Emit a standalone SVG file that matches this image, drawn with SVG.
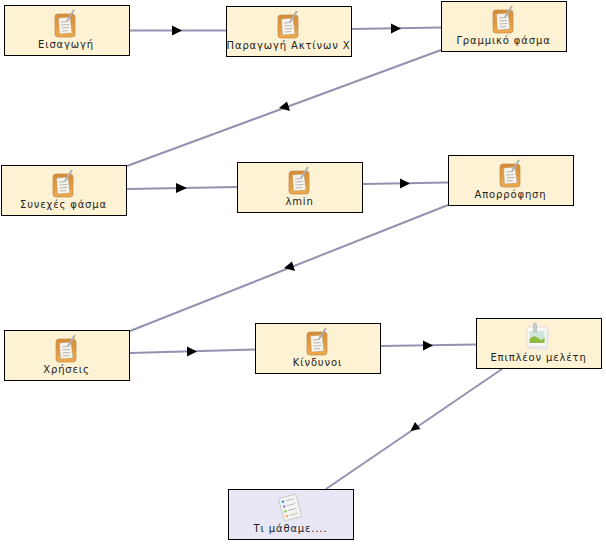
<svg xmlns="http://www.w3.org/2000/svg" width="606" height="544" viewBox="0 0 606 544">
<style>
.n{fill:#fdf2d3;stroke:#000;stroke-width:1}
.v{fill:#e9e7f5;stroke:#000;stroke-width:1}
text{font-family:"DejaVu Sans",Verdana,sans-serif;font-size:10px;letter-spacing:.85px;text-anchor:middle;fill:#222}
.c{fill:none;stroke:#9391b0;stroke-width:2}
.a{fill:#000}
</style>
<defs>
<linearGradient id="og" x1="0" y1="0" x2="0" y2="1"><stop offset="0" stop-color="#d68c35"/><stop offset="1" stop-color="#eeaa4c"/></linearGradient>
<g id="clip">
<rect x="-10" y="-11" width="20" height="23" rx="3" fill="url(#og)" stroke="#c08a50" stroke-width=".7"/>
<path d="M-6.500-7L5-8L7 8L-5.500 9Z" fill="#f6f4ec" stroke="#a09070" stroke-width=".4"/>
<path d="M-4-3L3-3.500M-3.800 0L4-.5M-3.500 3L4.300 2.500M-3.200 6L3 5.500" stroke="#999" stroke-width=".7" fill="none"/>
<path d="M2-4L9-15" stroke="#b0b0b0" stroke-width="2" fill="none"/>
</g>
<g id="pic">
<rect x="-9" y="-6" width="19" height="19" rx="1" fill="#eee" stroke="#ddd" stroke-width=".5" transform="rotate(8 0 3)"/>
<rect x="-11" y="-9" width="20" height="20" rx="1" fill="#f8f8f8" stroke="#ccc" stroke-width=".6"/>
<rect x="-8.500" y="-5" width="15" height="12" fill="#cfe6d8"/>
<path d="M-8.500 3Q-4-2 0 2T6.500 1V7H-8.500Z" fill="#8dbb45"/>
<rect x="-4.500" y="-13" width="3" height="9" rx="1.500" fill="#c8cdd2" stroke="#a0a5aa" stroke-width=".5"/>
</g>
<g id="list">
<rect x="-9" y="-11" width="18" height="23" rx="1" fill="#f5f5f3" stroke="#bbb" stroke-width=".7" transform="rotate(-15)"/>
<g transform="rotate(-15)">
<circle cx="-5.500" cy="-7" r="1.300" fill="#3d8fe0"/><circle cx="-5.500" cy="-2" r="1.300" fill="#8f7fd0"/><circle cx="-5.500" cy="3" r="1.300" fill="#8cc63f"/><circle cx="-5.500" cy="8" r="1.300" fill="#f5a860"/>
<path d="M-3-7H6M-3-2H6M-3 3H6M-3 8H6" stroke="#aaa" stroke-width=".7" fill="none"/>
</g>
</g>
</defs>
<g id="connectors">
<path class="c" d="M130 30.500H226"/><path class="a" d="M182 30.500L172 25.500V35.500Z"/>
<path class="c" d="M352 29L441 27.500"/><path class="a" d="M401 28.500L391 23.500V33.500Z"/>
<path class="c" d="M441 50L127 166"/><path class="a" d="M279 108L287 101.500L290 111Z"/>
<path class="c" d="M127 189L237 187"/><path class="a" d="M187 188L176 183V193Z"/>
<path class="c" d="M363 184L448 182.500"/><path class="a" d="M410 183.500L400 178.500V188.500Z"/>
<path class="c" d="M448 205L130 331"/><path class="a" d="M284 268L292 261.500L295 271Z"/>
<path class="c" d="M130 353L255 349.500"/><path class="a" d="M197 351.500L187 346.500V356.500Z"/>
<path class="c" d="M381 346L476 344.500"/><path class="a" d="M433 345.500L423 340.500V350.500Z"/>
<path class="c" d="M502 369L326 489"/><path class="a" d="M410.500 431L415 422L420.500 429Z"/>
</g>
<g id="n1"><rect class="n" x="4.500" y="5.500" width="125" height="50"/><use href="#clip" x="65" y="25"/><text x="66" y="48">Εισαγωγή</text></g>
<g id="n2"><rect class="n" x="226.500" y="6.500" width="125" height="50"/><use href="#clip" x="288" y="26"/><text x="288.500" y="49">Παραγωγή Ακτίνων Χ</text></g>
<g id="n3"><rect class="n" x="441.500" y="1.500" width="125" height="50"/><use href="#clip" x="503" y="21"/><text x="503.500" y="44">Γραμμικό φάσμα</text></g>
<g id="n4"><rect class="n" x="1.500" y="165.500" width="125" height="50"/><use href="#clip" x="63" y="185"/><text x="63.500" y="208">Συνεχές φάσμα</text></g>
<g id="n5"><rect class="n" x="237.500" y="162.500" width="125" height="50"/><use href="#clip" x="299" y="182"/><text x="299.500" y="205">λmin</text></g>
<g id="n6"><rect class="n" x="448.500" y="155.500" width="125" height="50"/><use href="#clip" x="510" y="175"/><text x="510.500" y="198">Απορρόφηση</text></g>
<g id="n7"><rect class="n" x="4.500" y="330.500" width="125" height="50"/><use href="#clip" x="66" y="350"/><text x="66.500" y="373">Χρήσεις</text></g>
<g id="n8"><rect class="n" x="255.500" y="323.500" width="125" height="50"/><use href="#clip" x="317" y="343"/><text x="317.500" y="366">Κίνδυνοι</text></g>
<g id="n9"><rect class="n" x="476.500" y="318.500" width="125" height="50"/><use href="#pic" x="538" y="336"/><text x="538.500" y="361">Επιπλέον μελέτη</text></g>
<g id="n10"><rect class="v" x="228.500" y="489.500" width="125" height="50"/><use href="#list" x="290" y="507"/><text x="290.500" y="532">Τι μάθαμε....</text></g>
</svg>
